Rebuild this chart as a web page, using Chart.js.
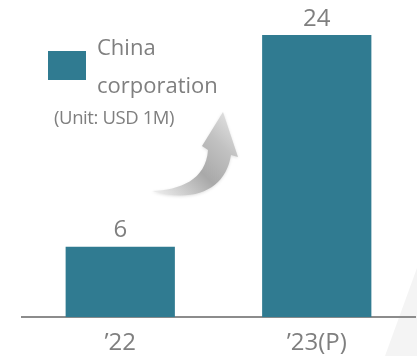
<!DOCTYPE html>
<html lang="en">

<head>
    <meta charset="UTF-8">
    <meta name="viewport" content="width=device-width, initial-scale=1.0">
    <title>China corporation</title>
    <script src="https://cdnjs.cloudflare.com/ajax/libs/Chart.js/4.4.1/chart.umd.min.js"></script>
    <style>
        html, body {
            margin: 0;
            padding: 0;
            background: #ffffff;
            overflow: hidden;
        }

        #myChart {
            display: block;
        }
    </style>
</head>

<body>
    <canvas id="myChart" width="417" height="356"></canvas>
    <script>
        const years = ['\u201922', '\u201923(P)'];
        const sales = [6, 24];
        const seriesName = ['China', 'corporation'];
        const unitNote = '(Unit: USD 1M)';

        const barColor = '#307b91';
        const textColor = '#7f7f7f';
        const fontFamily = '"Open Sans", "Noto Sans", sans-serif';

        // faint diagonal panel in the lower right corner
        const backdrop = {
            id: 'backdrop',
            beforeDraw(chart) {
                const c = chart.ctx;
                c.save();
                c.fillStyle = '#f4f4f4';
                c.beginPath();
                c.moveTo(417, 268);
                c.lineTo(417, 356);
                c.lineTo(385, 356);
                c.closePath();
                c.fill();
                c.restore();
            }
        };

        // numbers above each bar
        const valueLabels = {
            id: 'valueLabels',
            afterDatasetsDraw(chart) {
                const c = chart.ctx;
                const meta = chart.getDatasetMeta(0);
                c.save();
                c.fillStyle = textColor;
                c.font = '24px ' + fontFamily;
                c.textAlign = 'center';
                c.textBaseline = 'middle';
                meta.data.forEach(function (bar, i) {
                    c.fillText(sales[i], bar.x, bar.y - 16);
                });
                c.restore();
            }
        };

        // legend box, unit note and the growth arrow
        const notes = {
            id: 'notes',
            afterDraw(chart) {
                const c = chart.ctx;
                c.save();

                c.fillStyle = barColor;
                c.fillRect(48, 51, 38, 29);

                c.fillStyle = textColor;
                c.textAlign = 'left';
                c.textBaseline = 'middle';
                c.font = '22px ' + fontFamily;
                c.fillText(seriesName[0], 97, 49);
                c.fillText(seriesName[1], 97, 87);
                c.font = '18.5px ' + fontFamily;
                c.letterSpacing = '-0.4px';
                c.fillText(unitNote, 54, 119);
                c.letterSpacing = '0px';

                const g = c.createLinearGradient(152, 195, 232, 115);
                g.addColorStop(0, '#f2f2f2');
                g.addColorStop(0.45, '#a9a9a9');
                g.addColorStop(0.75, '#c2c2c2');
                g.addColorStop(1, '#e2e2e2');
                c.shadowColor = 'rgba(0,0,0,0.12)';
                c.shadowBlur = 3;
                c.shadowOffsetY = 1;
                c.fillStyle = g;
                c.beginPath();
                c.moveTo(152, 191);
                c.bezierCurveTo(180, 190, 206, 180, 208, 150);
                c.lineTo(202, 146);
                c.lineTo(223, 112);
                c.lineTo(238, 157);
                c.lineTo(231, 155);
                c.bezierCurveTo(226, 188, 196, 204, 152, 191);
                c.closePath();
                c.fill();
                c.restore();
            }
        };

        const ctx = document.getElementById('myChart').getContext('2d');
        const myChart = new Chart(ctx, {
            type: 'bar',
            data: {
                labels: years,
                datasets: [{
                    label: seriesName.join(' '),
                    data: sales,
                    backgroundColor: barColor,
                    borderWidth: 0,
                    barPercentage: 0.556,
                    categoryPercentage: 1
                }]
            },
            options: {
                responsive: false,
                animation: false,
                layout: {
                    padding: { top: 35, left: 22, right: 2, bottom: -6 }
                },
                plugins: {
                    legend: { display: false },
                    tooltip: { enabled: false }
                },
                scales: {
                    x: {
                        grid: { display: false },
                        border: { display: true, color: '#8c8c8c', width: 2 },
                        ticks: {
                            color: textColor,
                            font: { family: fontFamily, size: 24 },
                            padding: 4
                        }
                    },
                    y: {
                        display: false,
                        min: 0,
                        max: Math.max(...sales)
                    }
                }
            },
            plugins: [backdrop, valueLabels, notes]
        });
    </script>

</body>

</html>
